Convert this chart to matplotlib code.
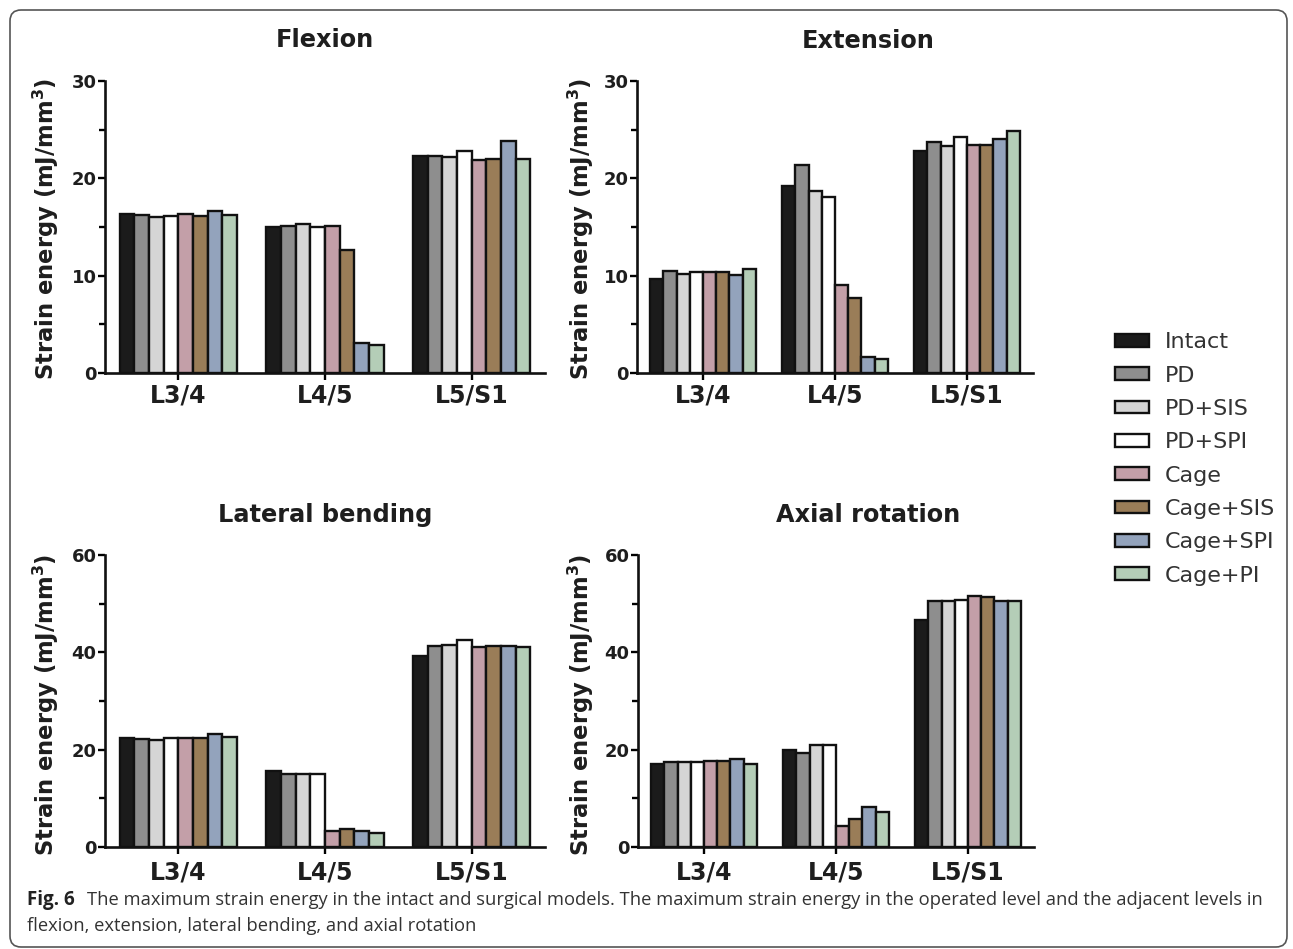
import matplotlib
matplotlib.use("Agg")
import matplotlib.pyplot as plt
import numpy as np
from matplotlib.patches import FancyBboxPatch
from matplotlib.ticker import MultipleLocator
from matplotlib.transforms import IdentityTransform

levels = ["L3/4", "L4/5", "L5/S1"]
groups = ["Intact", "PD", "PD+SIS", "PD+SPI", "Cage", "Cage+SIS", "Cage+SPI", "Cage+PI"]
colors = ["#1b1b1b", "#8e8e8e", "#d5d5d5", "#ffffff", "#c39fa8", "#9a7d58", "#93a3bc", "#b4cdb7"]

# values per group: [L3/4, L4/5, L5/S1]
flexion = {
    "Intact":   [16.3, 15.0, 22.3],
    "PD":       [16.2, 15.1, 22.3],
    "PD+SIS":   [16.0, 15.3, 22.2],
    "PD+SPI":   [16.1, 15.0, 22.8],
    "Cage":     [16.3, 15.1, 21.9],
    "Cage+SIS": [16.1, 12.6, 22.0],
    "Cage+SPI": [16.6, 3.1, 23.8],
    "Cage+PI":  [16.2, 2.85, 22.0],
}
extension = {
    "Intact":   [9.7, 19.2, 22.8],
    "PD":       [10.5, 21.4, 23.7],
    "PD+SIS":   [10.2, 18.7, 23.3],
    "PD+SPI":   [10.4, 18.1, 24.2],
    "Cage":     [10.4, 9.0, 23.4],
    "Cage+SIS": [10.4, 7.7, 23.4],
    "Cage+SPI": [10.1, 1.6, 24.0],
    "Cage+PI":  [10.7, 1.4, 24.9],
}
lateral = {
    "Intact":   [22.5, 15.6, 39.2],
    "PD":       [22.2, 14.9, 41.2],
    "PD+SIS":   [22.0, 15.1, 41.6],
    "PD+SPI":   [22.3, 14.9, 42.5],
    "Cage":     [22.3, 3.3, 41.0],
    "Cage+SIS": [22.3, 3.6, 41.4],
    "Cage+SPI": [23.3, 3.2, 41.4],
    "Cage+PI":  [22.6, 2.95, 41.0],
}
axial = {
    "Intact":   [17.1, 19.9, 46.6],
    "PD":       [17.5, 19.4, 50.5],
    "PD+SIS":   [17.5, 20.9, 50.5],
    "PD+SPI":   [17.5, 20.9, 50.8],
    "Cage":     [17.7, 4.4, 51.6],
    "Cage+SIS": [17.7, 5.8, 51.3],
    "Cage+SPI": [18.1, 8.2, 50.5],
    "Cage+PI":  [17.0, 7.2, 50.5],
}

panels = [
    ("Flexion", flexion, 30, 10, 5),
    ("Extension", extension, 30, 10, 5),
    ("Lateral bending", lateral, 60, 20, 10),
    ("Axial rotation", axial, 60, 20, 10),
]

W, H = 1293, 949
plt.rcParams["font.family"] = ["DejaVu Sans"]
fig = plt.figure(figsize=(W / 100, H / 100), dpi=100)

# border (rounded box) in pixel coordinates
box = FancyBboxPatch((10, 2), 1277, 937,
                     boxstyle="round,pad=0,rounding_size=11",
                     transform=IdentityTransform(), fill=False,
                     edgecolor="#555555", linewidth=1.2)
fig.patches.append(box)

# axes rectangles in pixels: (x_left, x_right, y_zero, y_top)
rects = [(105, 545, 373, 81), (637, 1033, 373, 81),
         (105, 545, 847, 555), (638, 1034, 847, 555)]
title_pos = [(325, 47), (868, 48), (325, 522), (868, 522)]
ylab_pos = [(46, 229), (581, 229), (46, 705), (581, 705)]

TXT = "#1e1e1e"
n = len(groups)
bw = 0.8 / n
x = np.arange(len(levels))
handles = []
for i, (title, data, ymax, major, minor) in enumerate(panels):
    xl, xr, y0, yt = rects[i]
    ax = fig.add_axes([xl / W, 1 - y0 / H, (xr - xl) / W, (y0 - yt) / H])
    for j, g in enumerate(groups):
        b = ax.bar(x - 0.4 + bw * (j + 0.5), data[g], bw, color=colors[j],
                   edgecolor="#111111", linewidth=1.7, label=g, zorder=2)
        if i == 0:
            handles.append(b)
    ax.set_xlim(-0.5, 2.5)
    ax.set_ylim(0, ymax)
    ax.yaxis.set_major_locator(MultipleLocator(major))
    ax.yaxis.set_minor_locator(MultipleLocator(minor))
    ax.set_xticks(x)
    ax.set_xticklabels(levels, fontsize=17, fontweight="bold", color=TXT)
    for lab in ax.get_yticklabels():
        lab.set_fontweight("bold")
        lab.set_fontsize(13)
        lab.set_color(TXT)
    ax.tick_params(axis="both", which="major", length=5, width=1.7, direction="out", pad=1)
    ax.tick_params(axis="y", which="minor", length=4, width=1.7, direction="out")
    ax.tick_params(axis="x", pad=2.5 if i < 2 else 4.5)
    for s in ["top", "right"]:
        ax.spines[s].set_visible(False)
    for s in ["left", "bottom"]:
        ax.spines[s].set_linewidth(1.9)
        ax.spines[s].set_color("#111111")
    ax.set_facecolor("none")
    tx, ty = title_pos[i]
    fig.text(tx / W, 1 - ty / H, title, ha="center", va="baseline",
             fontsize=17.3, fontweight="bold", color=TXT)
    lx, ly = ylab_pos[i]
    fig.text(lx / W, 1 - ly / H,
             "Strain energy (mJ/mm$^\\mathbf{3}$)", rotation=90,
             ha="center", va="center", fontsize=16.3, fontweight="bold", color=TXT)

fig.legend(handles, groups, loc="center left",
           bbox_to_anchor=(1115 / W, 1 - 459 / H), frameon=False,
           fontsize=16, handlelength=1.53, handleheight=0.5,
           labelspacing=0.6, handletextpad=0.72, borderpad=0, borderaxespad=0,
           labelcolor="#333333")

cap_font = ["Open Sans", "DejaVu Sans"]
fig.text(27 / W, 1 - 900 / H, "Fig. 6", fontsize=13.5, fontweight="bold",
         family=cap_font, va="center", ha="left", color="#222222")
fig.text(87 / W, 1 - 900 / H,
         "The maximum strain energy in the intact and surgical models. The maximum strain energy in the operated level and the adjacent levels in",
         fontsize=13.2, family=cap_font, va="center", ha="left", color="#333333")
fig.text(27 / W, 1 - 926 / H,
         "flexion, extension, lateral bending, and axial rotation",
         fontsize=13.2, family=cap_font, va="center", ha="left", color="#333333")

fig.savefig("out.png", dpi=100)
